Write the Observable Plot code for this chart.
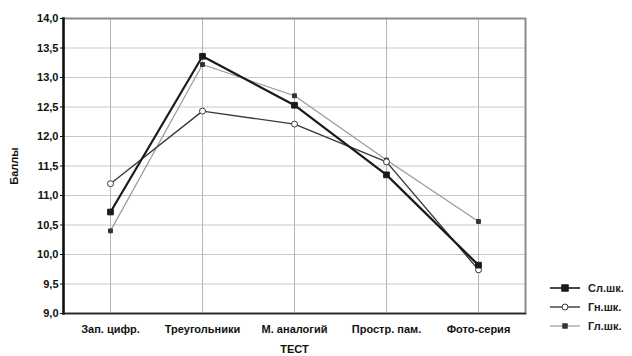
<!DOCTYPE html>
<html><head><meta charset="utf-8">
<script src="https://cdn.jsdelivr.net/npm/d3@7"></script>
<script src="https://cdn.jsdelivr.net/npm/@observablehq/plot@0.6"></script>
<style>
body{margin:0;background:#fff;font-family:"Liberation Sans",Arial,sans-serif;}
#wrap{position:relative;width:632px;height:356px;}
#legend{position:absolute;left:548px;top:278px;font:bold 11px "Liberation Sans",Arial,sans-serif;color:#222;}
#legend div{display:flex;align-items:center;height:19px;}
#legend svg{margin-right:4px;}
</style></head>
<body><div id="wrap"><div id="legend"></div></div>
<script>
const categories = ["Зап. цифр.", "Треугольники", "М. аналогий", "Простр. пам.", "Фото-серия"];
const seriesNames = ["Сл.шк.", "Гн.шк.", "Гл.шк."];
const valuesSl = [10.72, 13.36, 12.53, 11.35, 9.82];
const valuesGn = [11.20, 12.43, 12.21, 11.57, 9.74];
const valuesGl = [10.40, 13.22, 12.69, 11.60, 10.56];
const yTicks = [9.0, 9.5, 10.0, 10.5, 11.0, 11.5, 12.0, 12.5, 13.0, 13.5, 14.0];

const styles = [
  {stroke:"#1a1a1a", strokeWidth:2.2, symbol:"square", r:3.2, fill:"#1a1a1a", dotStroke:"#1a1a1a"},
  {stroke:"#3a3a3a", strokeWidth:1.4, symbol:"circle", r:3, fill:"#fff", dotStroke:"#3a3a3a"},
  {stroke:"#9a9a9a", strokeWidth:1.2, symbol:"square", r:2.2, fill:"#333", dotStroke:"#333"}
];
const allValues = [valuesSl, valuesGn, valuesGl];
const data = seriesNames.map((s, i) => categories.map((c, j) => ({series:s, test:c, value:allValues[i][j]})));

const fmt = d => d.toFixed(1).replace(".", ",");

const marks = [
  Plot.gridY(yTicks, {stroke:"#c8c8c8", strokeOpacity:1, strokeWidth:1}),
  Plot.gridX(categories, {stroke:"#b5b5b5", strokeOpacity:1, strokeWidth:1}),
  Plot.frame({stroke:"#8c8c8c", strokeWidth:2}),
  Plot.frame({anchor:"bottom", stroke:"#222", strokeWidth:1.5}),
  Plot.frame({anchor:"left", stroke:"#111", strokeWidth:2.5}),
  Plot.axisY({ticks:yTicks, tickFormat:fmt, tickSize:3, tickPadding:2, fontWeight:"bold", fontSize:11, label:"Баллы", labelAnchor:"center", labelOffset:53, labelArrow:"none"}),
  Plot.axisX({tickSize:0, tickPadding:12, fontWeight:"bold", fontSize:11, label:"ТЕСТ", labelAnchor:"center", labelOffset:39, labelArrow:"none"})
];
[2, 1, 0].forEach(i => {
  const st = styles[i];
  marks.push(Plot.line(data[i], {x:"test", y:"value", stroke:st.stroke, strokeWidth:st.strokeWidth}));
});
[2, 1, 0].forEach(i => {
  const st = styles[i];
  marks.push(Plot.dot(data[i], {x:"test", y:"value", symbol:st.symbol, r:st.r, fill:st.fill, stroke:st.dotStroke, strokeWidth:1}));
});

const chart = Plot.plot({
  width:632, height:356,
  marginLeft:63, marginRight:107, marginTop:18, marginBottom:43,
  style:{fontFamily:"Liberation Sans, Arial, sans-serif", fontSize:"11px", fontWeight:"bold", color:"#111"},
  x:{type:"point", domain:categories, padding:0.5, label:"ТЕСТ"},
  y:{domain:[9, 14], label:"Баллы"},
  marks
});
document.getElementById("wrap").prepend(chart);

const legend = document.getElementById("legend");
seriesNames.forEach((s, i) => {
  const st = styles[i];
  const row = document.createElement("div");
  const marker = st.symbol === "circle"
    ? `<circle cx="17" cy="6" r="${st.r}" fill="${st.fill}" stroke="${st.dotStroke}"/>`
    : `<rect x="${17-st.r}" y="${6-st.r}" width="${2*st.r}" height="${2*st.r}" fill="${st.fill}" stroke="${st.dotStroke}"/>`;
  row.innerHTML = `<svg width="36" height="12"><line x1="2" y1="6" x2="32" y2="6" stroke="${st.stroke}" stroke-width="${Math.min(st.strokeWidth,1.6)}"/>${marker}</svg><span>${s}</span>`;
  legend.appendChild(row);
});
</script></body></html>
